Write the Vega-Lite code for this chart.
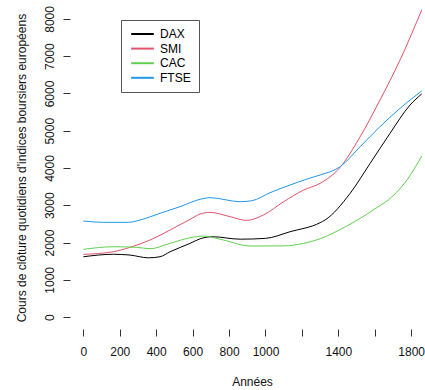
{
  "$schema": "https://vega.github.io/schema/vega-lite/v6.json",
  "width": 355,
  "height": 322,
  "autosize": {"type": "none"},
  "padding": {"left": 70, "top": 7, "right": 0, "bottom": 61},
  "background": "white",
  "config": {
    "view": {"stroke": null},
    "font": "Liberation Sans",
    "axis": {
      "labelOverlap": false, "labelFlush": false, "labelBound": false,
      "grid": false, "domain": false,
      "tickSize": 7, "tickColor": "#333", "tickWidth": 1,
      "labelFontSize": 12, "labelColor": "#111", "labelFont": "Liberation Sans",
      "titleFontSize": 12, "titleFontWeight": "normal", "titleColor": "#111",
      "titleFont": "Liberation Sans"
    }
  },
  "datasets": {
    "cours": [
      {"t": 0, "v": 1619, "indice": "DAX"},
      {"t": 165, "v": 1685, "indice": "DAX"},
      {"t": 256, "v": 1664, "indice": "DAX"},
      {"t": 357, "v": 1590, "indice": "DAX"},
      {"t": 421, "v": 1619, "indice": "DAX"},
      {"t": 476, "v": 1753, "indice": "DAX"},
      {"t": 586, "v": 1978, "indice": "DAX"},
      {"t": 641, "v": 2100, "indice": "DAX"},
      {"t": 707, "v": 2156, "indice": "DAX"},
      {"t": 861, "v": 2090, "indice": "DAX"},
      {"t": 1000, "v": 2112, "indice": "DAX"},
      {"t": 1135, "v": 2290, "indice": "DAX"},
      {"t": 1300, "v": 2532, "indice": "DAX"},
      {"t": 1327, "v": 2604, "indice": "DAX"},
      {"t": 1465, "v": 3321, "indice": "DAX"},
      {"t": 1575, "v": 4126, "indice": "DAX"},
      {"t": 1684, "v": 4931, "indice": "DAX"},
      {"t": 1794, "v": 5691, "indice": "DAX"},
      {"t": 1858, "v": 5987, "indice": "DAX"},
      {"t": 0, "v": 1683, "indice": "SMI"},
      {"t": 165, "v": 1753, "indice": "SMI"},
      {"t": 256, "v": 1871, "indice": "SMI"},
      {"t": 366, "v": 2067, "indice": "SMI"},
      {"t": 476, "v": 2336, "indice": "SMI"},
      {"t": 586, "v": 2622, "indice": "SMI"},
      {"t": 641, "v": 2765, "indice": "SMI"},
      {"t": 696, "v": 2810, "indice": "SMI"},
      {"t": 806, "v": 2693, "indice": "SMI"},
      {"t": 897, "v": 2595, "indice": "SMI"},
      {"t": 988, "v": 2738, "indice": "SMI"},
      {"t": 1100, "v": 3096, "indice": "SMI"},
      {"t": 1210, "v": 3409, "indice": "SMI"},
      {"t": 1300, "v": 3589, "indice": "SMI"},
      {"t": 1410, "v": 4019, "indice": "SMI"},
      {"t": 1520, "v": 4840, "indice": "SMI"},
      {"t": 1629, "v": 5826, "indice": "SMI"},
      {"t": 1739, "v": 6899, "indice": "SMI"},
      {"t": 1858, "v": 8242, "indice": "SMI"},
      {"t": 0, "v": 1817, "indice": "CAC"},
      {"t": 165, "v": 1887, "indice": "CAC"},
      {"t": 293, "v": 1871, "indice": "CAC"},
      {"t": 366, "v": 1834, "indice": "CAC"},
      {"t": 476, "v": 1978, "indice": "CAC"},
      {"t": 586, "v": 2129, "indice": "CAC"},
      {"t": 659, "v": 2174, "indice": "CAC"},
      {"t": 769, "v": 2067, "indice": "CAC"},
      {"t": 915, "v": 1906, "indice": "CAC"},
      {"t": 1100, "v": 1910, "indice": "CAC"},
      {"t": 1210, "v": 1978, "indice": "CAC"},
      {"t": 1300, "v": 2100, "indice": "CAC"},
      {"t": 1439, "v": 2424, "indice": "CAC"},
      {"t": 1520, "v": 2649, "indice": "CAC"},
      {"t": 1600, "v": 2900, "indice": "CAC"},
      {"t": 1700, "v": 3250, "indice": "CAC"},
      {"t": 1780, "v": 3700, "indice": "CAC"},
      {"t": 1858, "v": 4320, "indice": "CAC"},
      {"t": 0, "v": 2577, "indice": "FTSE"},
      {"t": 110, "v": 2542, "indice": "FTSE"},
      {"t": 247, "v": 2542, "indice": "FTSE"},
      {"t": 311, "v": 2604, "indice": "FTSE"},
      {"t": 421, "v": 2784, "indice": "FTSE"},
      {"t": 531, "v": 2962, "indice": "FTSE"},
      {"t": 641, "v": 3160, "indice": "FTSE"},
      {"t": 696, "v": 3203, "indice": "FTSE"},
      {"t": 861, "v": 3096, "indice": "FTSE"},
      {"t": 925, "v": 3122, "indice": "FTSE"},
      {"t": 1025, "v": 3337, "indice": "FTSE"},
      {"t": 1135, "v": 3544, "indice": "FTSE"},
      {"t": 1245, "v": 3730, "indice": "FTSE"},
      {"t": 1300, "v": 3812, "indice": "FTSE"},
      {"t": 1410, "v": 4035, "indice": "FTSE"},
      {"t": 1520, "v": 4572, "indice": "FTSE"},
      {"t": 1629, "v": 5109, "indice": "FTSE"},
      {"t": 1739, "v": 5603, "indice": "FTSE"},
      {"t": 1858, "v": 6067, "indice": "FTSE"}
    ]
  },
  "layer": [
    {
      "data": {"name": "cours"},
      "mark": {"type": "line", "strokeWidth": 1, "interpolate": "monotone"},
      "encoding": {
        "x": {
          "field": "t", "type": "quantitative",
          "scale": {"domain": [-73.4, 1876], "nice": false, "zero": false},
          "axis": {
            "title": "Années",
            "values": [0, 200, 400, 600, 800, 1000, 1200, 1400, 1600, 1800],
            "labelExpr": "datum.value == 1200 || datum.value == 1600 ? '' : datum.label",
            "format": "d",
            "labelPadding": 19, "labelBaseline": "alphabetic",
            "titleX": 182, "titleY": 56, "titleBaseline": "alphabetic", "titleAlign": "center"
          }
        },
        "y": {
          "field": "v", "type": "quantitative",
          "scale": {"domain": [-320, 8320], "nice": false, "zero": false},
          "axis": {
            "title": "Cours de clôture quotidiens d'indices boursiers européens",
            "values": [0, 1000, 2000, 3000, 4000, 5000, 6000, 7000, 8000],
            "format": "d",
            "labelAngle": -90, "labelAlign": "center", "labelBaseline": "alphabetic",
            "labelPadding": 10,
            "titleAngle": -90, "titleX": -45, "titleY": 160.6,
            "titleBaseline": "alphabetic", "titleAlign": "center"
          }
        },
        "color": {
          "field": "indice", "type": "nominal",
          "scale": {"domain": ["DAX", "SMI", "CAC", "FTSE"], "range": ["#000000", "#DF536B", "#61D04F", "#2297E6"]},
          "legend": {
            "title": null,
            "orient": "none", "legendX": 51, "legendY": 13,
            "padding": 8, "strokeColor": "#555", "fillColor": "white",
            "symbolType": "M-1,0H4.9", "symbolSize": 59, "symbolStrokeWidth": 2,
            "labelOffset": 19, "labelFontSize": 12, "labelFont": "Liberation Sans", "labelColor": "#000",
            "rowPadding": 2.6
          }
        }
      }
    },
    {
      "mark": {"type": "rule", "color": "#333", "strokeWidth": 1},
      "encoding": {
        "x": {
          "datum": 0, "type": "quantitative",
          "axis": {
            "title": "Années",
            "values": [0, 200, 400, 600, 800, 1000, 1200, 1400, 1600, 1800],
            "labelExpr": "datum.value == 1200 || datum.value == 1600 ? '' : datum.label",
            "format": "d",
            "labelPadding": 19, "labelBaseline": "alphabetic",
            "titleX": 182, "titleY": 56, "titleBaseline": "alphabetic", "titleAlign": "center"
          }
        },
        "x2": {"datum": 1800},
        "y": {
          "datum": -320, "type": "quantitative",
          "axis": {
            "title": "Cours de clôture quotidiens d'indices boursiers européens",
            "values": [0, 1000, 2000, 3000, 4000, 5000, 6000, 7000, 8000],
            "format": "d",
            "labelAngle": -90, "labelAlign": "center", "labelBaseline": "alphabetic",
            "labelPadding": 10,
            "titleAngle": -90, "titleX": -45, "titleY": 160.6,
            "titleBaseline": "alphabetic", "titleAlign": "center"
          }
        }
      }
    },
    {
      "mark": {"type": "rule", "color": "#333", "strokeWidth": 1},
      "encoding": {
        "y": {
          "datum": 0, "type": "quantitative",
          "axis": {
            "title": "Cours de clôture quotidiens d'indices boursiers européens",
            "values": [0, 1000, 2000, 3000, 4000, 5000, 6000, 7000, 8000],
            "format": "d",
            "labelAngle": -90, "labelAlign": "center", "labelBaseline": "alphabetic",
            "labelPadding": 10,
            "titleAngle": -90, "titleX": -45, "titleY": 160.6,
            "titleBaseline": "alphabetic", "titleAlign": "center"
          }
        },
        "y2": {"datum": 8000},
        "x": {
          "datum": -73.4, "type": "quantitative",
          "axis": {
            "title": "Années",
            "values": [0, 200, 400, 600, 800, 1000, 1200, 1400, 1600, 1800],
            "labelExpr": "datum.value == 1200 || datum.value == 1600 ? '' : datum.label",
            "format": "d",
            "labelPadding": 19, "labelBaseline": "alphabetic",
            "titleX": 182, "titleY": 56, "titleBaseline": "alphabetic", "titleAlign": "center"
          }
        }
      }
    }
  ]
}
